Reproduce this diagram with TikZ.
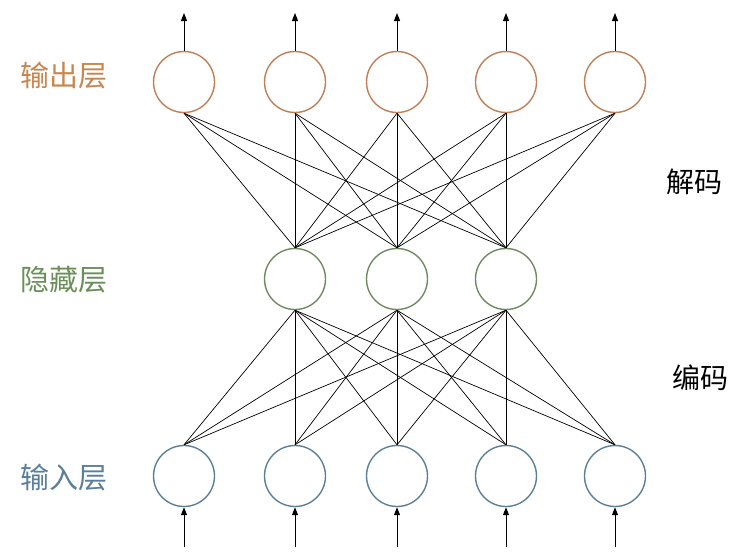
\documentclass[tikz,border=0pt]{standalone}
\usepackage{fontspec}
\newfontfamily\cjk{Noto Sans CJK SC}
\usetikzlibrary{arrows.meta}
\definecolor{outc}{HTML}{C07F55}
\definecolor{hidc}{HTML}{6E8A60}
\definecolor{inc}{HTML}{5B7F96}
\definecolor{outt}{HTML}{C8864E}
\definecolor{hidt}{HTML}{6A8F58}
\definecolor{intt}{HTML}{5A7E9C}
\begin{document}
\begin{tikzpicture}[x=1pt,y=1pt,
  neuron/.style={circle,draw,line width=1.4pt,minimum size=61pt,inner sep=0pt,fill=white},
  edge/.style={line width=0.7pt,black},
  io/.style={line width=1pt,-{Triangle[length=8pt,width=6pt]}},
  lab/.style={font=\cjk\fontsize{29}{29}\selectfont},
  side/.style={font=\cjk\fontsize{28}{28}\selectfont,black}]
\useasboundingbox (0,0) rectangle (742,-557);
% nodes
\foreach \i/\x in {1/184,2/295,3/397,4/506,5/615}{
  \node[neuron,draw=outc] (o\i) at (\x,-82) {};
  \node[neuron,draw=inc] (i\i) at (\x,-476) {};
  \coordinate (ot\i) at (\x,-13);
  \coordinate (ib\i) at (\x,-547);
}
\foreach \j/\x in {1/295,2/397,3/506}{
  \node[neuron,draw=hidc] (h\j) at (\x,-279) {};
}
% edges
\foreach \i in {1,...,5}{
  \foreach \j in {1,2,3}{
    \draw[edge] (o\i.south) -- (h\j.north);
    \draw[edge] (h\j.south) -- (i\i.north);
  }
  \draw[io] (o\i.north) -- (ot\i);
  \draw[io] (ib\i) -- (i\i.south);
}
% labels
\node[lab,text=outt] (lo) at (64,-76) {输出层};
\node[lab,text=hidt] (lh) at (64,-280) {隐藏层};
\node[lab,text=intt] (li) at (64,-478) {输入层};
\node[side] (dec) at (694,-182) {解码};
\node[side] (enc) at (700,-378) {编码};
\end{tikzpicture}
\end{document}
